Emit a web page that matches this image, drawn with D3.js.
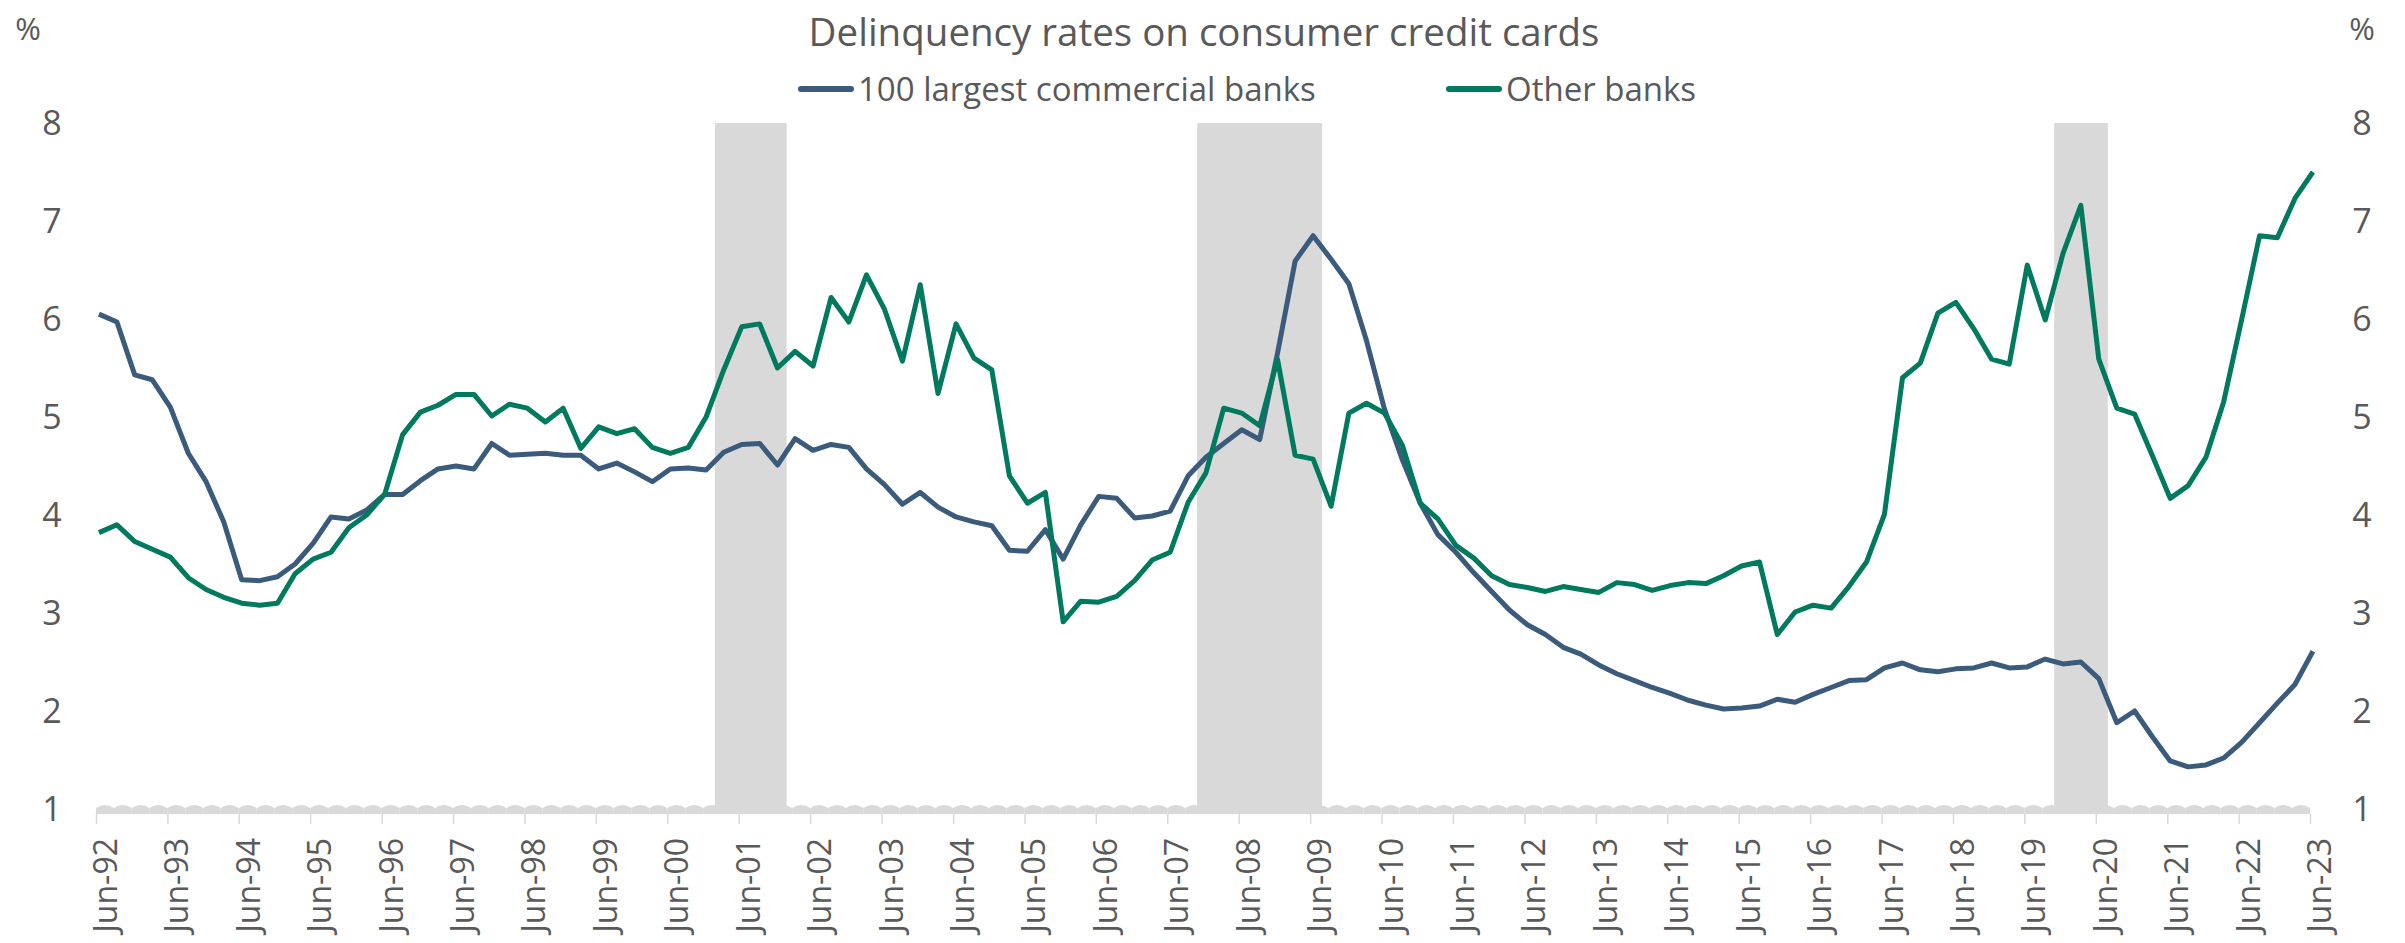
<!DOCTYPE html>
<html>
<head>
<meta charset="utf-8">
<script src="https://cdn.jsdelivr.net/npm/d3@7"></script>
<style>
  body { margin: 0; background: #fff; }
  text { font-family: "Open Sans", "Noto Sans", sans-serif; fill: #595959; }
</style>
</head>
<body>
<svg id="chart" width="2405" height="943"></svg>
<script>
// Data (quarterly, Jun-92 .. Jun-23), %
const largestBanks = [
  6.05, 5.97, 5.43, 5.38, 5.10, 4.63, 4.34, 3.93, 3.34, 3.33, 3.37, 3.50, 3.71, 3.98, 3.96, 4.05,
  4.21, 4.21, 4.35, 4.47, 4.50, 4.47, 4.73, 4.61, 4.62, 4.63, 4.61, 4.61, 4.47, 4.53, 4.44, 4.34,
  4.47, 4.48, 4.46, 4.64, 4.72, 4.73, 4.51, 4.78, 4.66, 4.72, 4.69, 4.47, 4.31, 4.11, 4.23, 4.08,
  3.98, 3.93, 3.89, 3.64, 3.63, 3.85, 3.55, 3.90, 4.19, 4.17, 3.97, 3.99, 4.04, 4.40,
  4.59, 4.73, 4.87, 4.77, 5.65, 6.59, 6.85, 6.61, 6.36, 5.78, 5.08, 4.56, 4.12, 3.80, 3.62, 3.41,
  3.22, 3.03, 2.88, 2.78, 2.65, 2.58, 2.47, 2.38, 2.31, 2.24, 2.18, 2.11, 2.06, 2.02, 2.03,
  2.05, 2.12, 2.09, 2.17, 2.24, 2.31, 2.32, 2.44, 2.49, 2.42, 2.40, 2.43, 2.44, 2.49, 2.44, 2.45,
  2.53, 2.48, 2.50, 2.33, 1.88, 2.00, 1.74, 1.49, 1.43, 1.45, 1.52, 1.68, 1.88, 2.08, 2.27, 2.61
];
const otherBanks = [
  3.82, 3.90, 3.73, 3.65, 3.57, 3.36, 3.24, 3.16, 3.10, 3.08, 3.10, 3.40, 3.55, 3.62, 3.87, 4.00,
  4.21, 4.82, 5.05, 5.12, 5.23, 5.23, 5.01, 5.13, 5.09, 4.95, 5.09, 4.68, 4.90, 4.83, 4.88, 4.69,
  4.63, 4.69, 5.00, 5.48, 5.92, 5.95, 5.50, 5.67, 5.52, 6.22, 5.97, 6.45, 6.10, 5.57, 6.35, 5.24,
  5.95, 5.60, 5.48, 4.40, 4.12, 4.23, 2.91, 3.12, 3.11, 3.17, 3.33, 3.54, 3.62, 4.13,
  4.43, 5.09, 5.04, 4.91, 5.59, 4.61, 4.57, 4.09, 5.04, 5.14, 5.04, 4.71, 4.12, 3.96, 3.69, 3.56,
  3.38, 3.29, 3.26, 3.22, 3.27, 3.24, 3.21, 3.31, 3.29, 3.23, 3.28, 3.31, 3.30, 3.38, 3.48,
  3.52, 2.78, 3.01, 3.08, 3.05, 3.27, 3.52, 4.01, 5.40, 5.55, 6.06, 6.17, 5.90, 5.59, 5.54, 6.55,
  5.99, 6.67, 7.16, 5.59, 5.09, 5.03, 4.61, 4.17, 4.30, 4.59, 5.15, 5.99, 6.85, 6.83, 7.23, 7.50
];
const tickLabels = [
  "Jun-92", "Jun-93", "Jun-94", "Jun-95", "Jun-96", "Jun-97", "Jun-98", "Jun-99", "Jun-00",
  "Jun-01", "Jun-02", "Jun-03", "Jun-04", "Jun-05", "Jun-06", "Jun-07", "Jun-08", "Jun-09",
  "Jun-10", "Jun-11", "Jun-12", "Jun-13", "Jun-14", "Jun-15", "Jun-16", "Jun-17", "Jun-18",
  "Jun-19", "Jun-20", "Jun-21", "Jun-22", "Jun-23"
];
// recession quarters (first, last)
const recessions = [["2001-03", "2001-12"], ["2007-12", "2009-06"], ["2019-12", "2020-06"]];
const yTicks = [1, 2, 3, 4, 5, 6, 7, 8];
const seriesNames = ["100 largest commercial banks", "Other banks"];
const colors = ["#3b5b7d", "#007a5e"];
const grey = "#d9d9d9";

const svg = d3.select("#chart");
const parseMonth = d3.timeParse("%Y-%m");
const start = new Date(1992, 5, 1), end = new Date(2023, 5, 1);

// quarter dates, each plotted mid-month
const quarters = d3.timeMonth.range(start, new Date(2023, 6, 1), 3);
const mid = d => d3.timeDay.offset(d, 15);

const x = d3.scaleTime().domain([start, end]).range([96, 2310]);
const y = d3.scaleLinear().domain([1, 8]).range([809, 123]);
const bandBottom = 814;

// baseline scallops, one per quarter
const gBase = svg.append("g");
quarters.slice(0, -1).forEach(q => {
  const x0 = x(q), x1 = x(d3.timeMonth.offset(q, 3)), xm = (x0 + x1) / 2;
  gBase.append("path")
    .attr("d", `M${x0},${bandBottom}L${x0},${y(1) - 1}Q${xm},${y(1) - 7} ${x1},${y(1) - 1}L${x1},${bandBottom}Z`)
    .attr("fill", grey);
});

// recession bars
svg.append("g").selectAll("rect")
  .data(recessions)
  .enter().append("rect")
    .attr("x", d => x(d3.timeDay.offset(parseMonth(d[0]), -30)))
    .attr("width", d => x(d3.timeMonth.offset(parseMonth(d[1]), 2)) - x(d3.timeDay.offset(parseMonth(d[0]), -30)))
    .attr("y", y(8))
    .attr("height", bandBottom - y(8))
    .attr("fill", grey);

// x axis
const xAxis = svg.append("g")
  .attr("transform", `translate(0,${bandBottom})`)
  .call(d3.axisBottom(x)
    .tickValues(tickLabels.map((t, i) => new Date(1992 + i, 5, 1)))
    .tickFormat((d, i) => tickLabels[i])
    .tickSize(10));
xAxis.select(".domain").remove();
xAxis.selectAll(".tick line").attr("stroke", grey).attr("stroke-width", 1.5);
xAxis.selectAll(".tick text")
  .attr("transform", "rotate(-90)")
  .attr("x", -24).attr("y", 8).attr("dy", null)
  .attr("text-anchor", "end")
  .attr("dominant-baseline", "central")
  .style("font-size", "32px");

// y axes (left and right)
[52, 2362].forEach(xp => {
  const g = svg.append("g")
    .attr("transform", `translate(${xp},0)`)
    .call(d3.axisLeft(y).tickValues(yTicks).tickFormat(d3.format("d")).tickSize(0).tickPadding(0));
  g.select(".domain").remove();
  g.selectAll("text")
    .attr("text-anchor", "middle")
    .attr("dy", "0.35em")
    .style("font-size", "34px");
  svg.append("text")
    .attr("x", xp < 1000 ? 28 : 2362).attr("y", 28)
    .attr("text-anchor", "middle").attr("dominant-baseline", "central")
    .style("font-size", "31px")
    .text("%");
});

// lines
const line = d3.line()
  .x((d, i) => x(mid(quarters[i])))
  .y(d => y(d));
[largestBanks, otherBanks].forEach((s, k) => {
  svg.append("path")
    .datum(s)
    .attr("d", line)
    .attr("fill", "none")
    .attr("stroke", colors[k])
    .attr("stroke-width", 5)
    .attr("stroke-linejoin", "round");
});

// title
svg.append("text")
  .attr("x", 1204).attr("y", 31)
  .attr("text-anchor", "middle").attr("dominant-baseline", "central")
  .style("font-size", "38.5px")
  .text("Delinquency rates on consumer credit cards");

// legend
const legendX = [798, 1446];
seriesNames.forEach((n, k) => {
  svg.append("line")
    .attr("x1", legendX[k] + 3).attr("x2", legendX[k] + 53)
    .attr("y1", 89).attr("y2", 89)
    .attr("stroke", colors[k]).attr("stroke-width", 6)
    .attr("stroke-linecap", "round");
  svg.append("text")
    .attr("x", legendX[k] + 60).attr("y", 88)
    .attr("dominant-baseline", "central")
    .style("font-size", "33px")
    .text(n);
});
</script>
</body>
</html>
